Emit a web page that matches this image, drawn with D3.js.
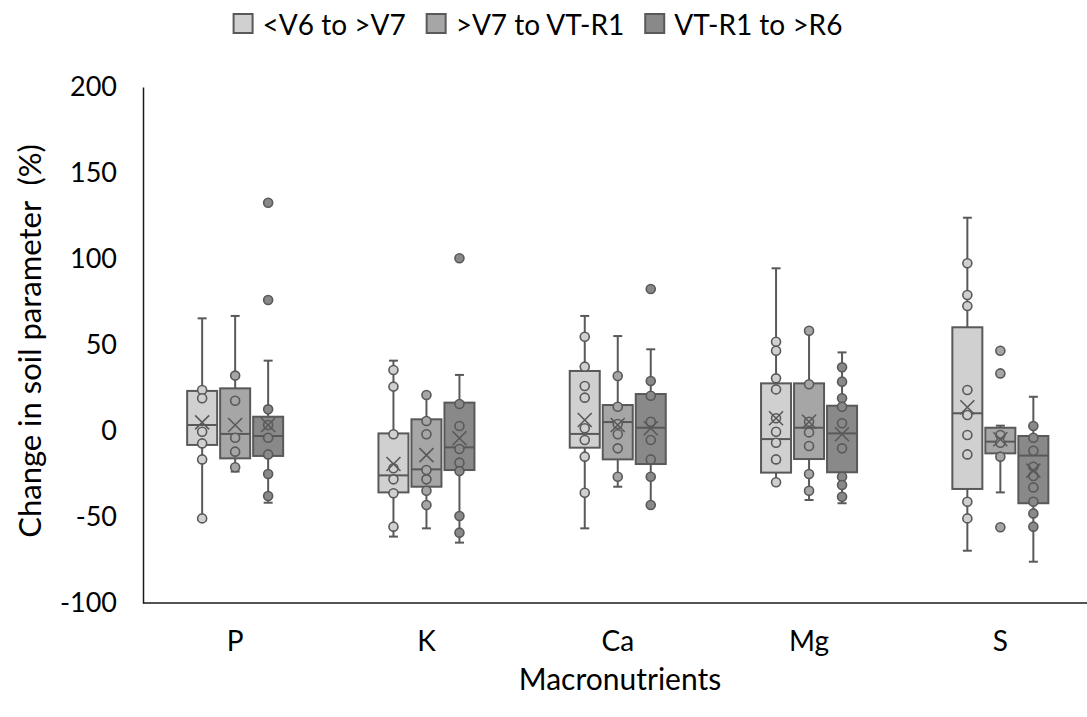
<!DOCTYPE html>
<html>
<head>
<meta charset="utf-8">
<script src="https://cdn.jsdelivr.net/npm/d3@7"></script>
<style>
  body { margin: 0; background: #fff; }
  svg text { font-family: Lato, "Open Sans", sans-serif; fill: #000; }
</style>
</head>
<body>
<div id="chart"></div>
<script>
// categories and series
const categories = ["P", "K", "Ca", "Mg", "S"];
const seriesNames = ["<V6 to >V7", ">V7 to VT-R1", "VT-R1 to >R6"];
const yTicks = [-100, -50, 0, 50, 100, 150, 200];

// box statistics per series, one value per category (P, K, Ca, Mg, S)
const lowS1    = [-50.6, -61.4, -56.6, -29.8, -69.6];
const q1S1     = [-8.1, -35.7, -9.7, -24.2, -33.7];
const medianS1 = [3.5, -25.8, -1.7, -4.7, 10.3];
const q3S1     = [23.3, -1.4, 34.9, 27.7, 60.3];
const highS1   = [65.5, 40.9, 66.9, 94.6, 124];
const meanS1   = [5, -19.2, 6.4, 7.4, 13.8];
const pointsS1 = [
    [23.8, 19, -0.4, -7.2, -16.5, -50.8],
    [35.5, 25.8, -1.9, -21.7, -28.1, -36.2, -55.6],
    [54.8, 37.4, 26.2, 19.4, 1.6, -5.2, -14.9, -35.9],
    [51.9, 46.7, 30.6, 24.2, 7.4, -0.4, -6.8, -16.5, -29.8],
    [97.5, 79.1, 72.7, 23.8, 9.3, -2.3, -13.6, -41.1, -50.8]
];

const lowS2    = [-23.6, -56.6, -32.4, -40.1, -35.7];
const q1S2     = [-15.9, -32.4, -16.5, -16.3, -13];
const medianS2 = [-1.7, -22.3, 5.2, 1.9, -6.2];
const q3S2     = [24.8, 6.8, 15.1, 27.7, 1.9];
const highS2   = [66.9, 20.9, 55.2, 58.3, 3.1];
const meanS2   = [3.5, -14, 3.5, 5.4, -4.8];
const pointsS2 = [
    [32.2, 17.6, -3.9, -12, -21.1],
    [20.9, 5.8, -1.9, -22.7, -28.1, -34.7, -43],
    [32, 14.1, 4.1, -1.9, -10.1, -26.6],
    [58.3, 27.2, 5.4, -0.8, -8.7, -25, -34.7],
    [46.7, 33.5, -2.3, -6.8, -14.9, -56]
];

const lowS3    = [-41.7, -64.9, -43, -42, -76];
const q1S3     = [-14.5, -22.7, -19.2, -24, -42];
const medianS3 = [-2.9, -9.5, 1.9, -1.4, -14.3];
const q3S3     = [8.3, 16.5, 21.5, 14.7, -2.9];
const highS3   = [40.9, 32.6, 47.5, 45.7, 19.9];
const meanS3   = [3.5, -4.2, 1.6, -1.9, -23];
const pointsS3 = [
    [132.7, 76.2, 12.6, 3.5, -3.9, -13.6, -25, -37.8],
    [100.4, 15.7, 2.9, -10.5, -18.4, -23.3, -49.4, -59.1],
    [82.6, 29.1, 20.5, 5.4, -5.2, -16.5, -26.6, -43],
    [37, 28.7, 19, 14.1, 4.5, -10.1, -26.6, -31.4, -38.2],
    [2.9, -3.9, -11.5, -20.8, -26.2, -32.8, -41.1, -47.9, -55.6]
];

const colors = ["#d0d0d0", "#a6a6a6", "#898989"];
const edge = "#595959";

const width = 1087, height = 717;
const plotLeft = 143, plotTop = 87, plotBottom = 603;

// build one table from the arrays above
const stats = [
    [lowS1, q1S1, medianS1, q3S1, highS1, meanS1, pointsS1],
    [lowS2, q1S2, medianS2, q3S2, highS2, meanS2, pointsS2],
    [lowS3, q1S3, medianS3, q3S3, highS3, meanS3, pointsS3]
];
const boxes = [];
stats.forEach((s, si) => {
    categories.forEach((c, ci) => {
        boxes.push({
            series: si, cat: c,
            low: s[0][ci], q1: s[1][ci], median: s[2][ci], q3: s[3][ci],
            high: s[4][ci], mean: s[5][ci], points: s[6][ci]
        });
    });
});

const svg = d3.select("#chart").append("svg")
    .attr("width", width)
    .attr("height", height);

const x = d3.scaleBand()
    .domain(categories)
    .range([139.5, 1096]);

const sub = d3.scaleBand()
    .domain(d3.range(seriesNames.length))
    .range([-49.5, 49.5]);

const y = d3.scaleLinear()
    .domain([-100, 200])
    .range([plotBottom, plotTop]);

const boxW = 30;
const capW = 9;

// y axis
const yAxis = svg.append("g")
    .attr("transform", "translate(" + plotLeft + ",0)")
    .call(d3.axisLeft(y).tickValues(yTicks).tickFormat(d => String(d))
        .tickSize(0).tickSizeOuter(0).tickPadding(26));
yAxis.select(".domain").attr("stroke", "#1a1a1a").attr("stroke-width", 1.5);
yAxis.selectAll("text").style("font-size", "27px").attr("font-family", null);

// x axis labels (line drawn separately so it meets the y axis)
const xAxis = svg.append("g")
    .attr("transform", "translate(0," + plotBottom + ")")
    .call(d3.axisBottom(x).tickSize(0).tickPadding(28));
xAxis.select(".domain").remove();
xAxis.selectAll("text").style("font-size", "28px").attr("font-family", null);

svg.append("line")
    .attr("x1", plotLeft).attr("x2", width)
    .attr("y1", plotBottom).attr("y2", plotBottom)
    .attr("stroke", "#1a1a1a").attr("stroke-width", 1.5);

// axis titles
svg.append("text")
    .attr("transform", "translate(29," + 341 + ") rotate(-90)")
    .attr("text-anchor", "middle")
    .attr("dominant-baseline", "central")
    .attr("xml:space", "preserve")
    .style("font-size", "31px")
    .text("Change in soil parameter  (%)");

svg.append("text")
    .attr("x", 620).attr("y", 678)
    .attr("text-anchor", "middle")
    .attr("dominant-baseline", "central")
    .style("font-size", "30px")
    .text("Macronutrients");

// boxes
const cx = d => x(d.cat) + x.bandwidth() / 2 + sub(d.series) + sub.bandwidth() / 2;

const g = svg.selectAll(".box")
    .data(boxes)
    .enter()
    .append("g")
    .attr("class", "box");

g.append("line")
    .attr("x1", cx).attr("x2", cx)
    .attr("y1", d => y(d.high)).attr("y2", d => y(d.low))
    .attr("stroke", edge).attr("stroke-width", 2);

g.append("line")
    .attr("x1", d => cx(d) - capW / 2).attr("x2", d => cx(d) + capW / 2)
    .attr("y1", d => y(d.high)).attr("y2", d => y(d.high))
    .attr("stroke", edge).attr("stroke-width", 2);

g.append("line")
    .attr("x1", d => cx(d) - capW / 2).attr("x2", d => cx(d) + capW / 2)
    .attr("y1", d => y(d.low)).attr("y2", d => y(d.low))
    .attr("stroke", edge).attr("stroke-width", 2);

g.append("rect")
    .attr("x", d => cx(d) - boxW / 2)
    .attr("width", boxW)
    .attr("y", d => y(d.q3))
    .attr("height", d => y(d.q1) - y(d.q3))
    .attr("fill", d => colors[d.series])
    .attr("stroke", edge).attr("stroke-width", 2);

g.append("line")
    .attr("x1", d => cx(d) - boxW / 2).attr("x2", d => cx(d) + boxW / 2)
    .attr("y1", d => y(d.median)).attr("y2", d => y(d.median))
    .attr("stroke", edge).attr("stroke-width", 2);

// inner / outlier points
g.selectAll("circle")
    .data(d => d.points.map(v => ({ v: v, box: d })))
    .enter()
    .append("circle")
    .attr("cx", p => cx(p.box))
    .attr("cy", p => y(p.v))
    .attr("r", 4.5)
    .attr("fill", p => colors[p.box.series])
    .attr("stroke", edge).attr("stroke-width", 1.6);

// mean markers
const m = 7;
g.append("path")
    .attr("d", d => {
        const px = cx(d), py = y(d.mean);
        return "M" + (px - m) + "," + (py - m) + "L" + (px + m) + "," + (py + m) +
               "M" + (px - m) + "," + (py + m) + "L" + (px + m) + "," + (py - m);
    })
    .attr("fill", "none")
    .attr("stroke", edge).attr("stroke-width", 1.6);

// legend
const legend = svg.append("g");
let lx = 0;
seriesNames.forEach((name, i) => {
    const item = legend.append("g").attr("transform", "translate(" + lx + ",0)");
    item.append("rect")
        .attr("x", 0).attr("y", 14)
        .attr("width", 19).attr("height", 19)
        .attr("fill", colors[i])
        .attr("stroke", edge).attr("stroke-width", 2);
    const t = item.append("text")
        .attr("x", 29).attr("y", 24)
        .attr("dominant-baseline", "central")
        .style("font-size", "28px")
        .text(name);
    lx += 29 + t.node().getComputedTextLength() + 21;
});
const legendW = lx - 21;
legend.attr("transform", "translate(" + (538 - legendW / 2) + ",0)");
</script>
</body>
</html>
